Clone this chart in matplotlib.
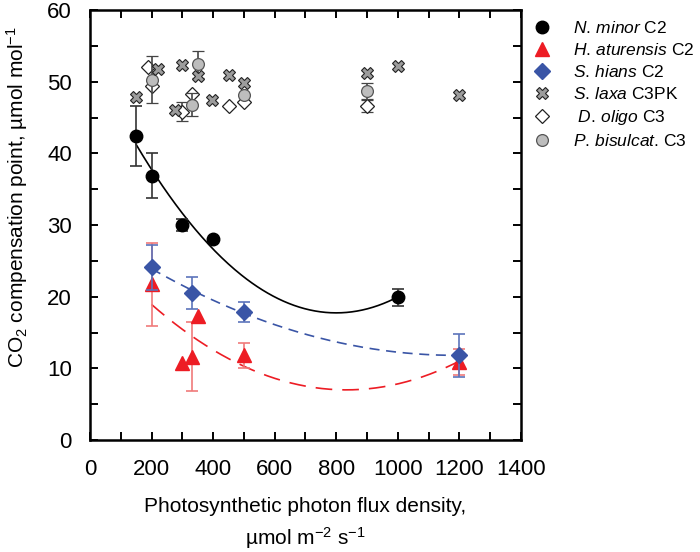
import numpy as np
import matplotlib
matplotlib.use("Agg")
import matplotlib.pyplot as plt

plt.rcParams["font.family"] = ["Liberation Sans", "DejaVu Sans"]
plt.rcParams["mathtext.fontset"] = "custom"
plt.rcParams["mathtext.rm"] = "Liberation Sans"
plt.rcParams["mathtext.it"] = "Liberation Sans:italic"

# ── data ────────────────────────────────────────────────────────────────────
nan = np.nan

x_nminor = [150, 200, 300, 400, 1000]
y_nminor = [42.4, 36.9, 30.0, 28.0, 19.9]
e_nminor = [4.2, 3.1, 0.8, nan, 1.2]

x_hatur = [200, 300, 330, 350, 500, 1200]
y_hatur = [21.7, 10.8, 11.6, 17.3, 11.8, 10.9]
e_hatur = [5.8, nan, 4.8, nan, 1.8, 1.8]

x_shians = [200, 330, 500, 1200]
y_shians = [24.1, 20.5, 17.9, 11.8]
e_shians = [3.1, 2.2, 1.4, 3.0]

x_slaxa = [150, 220, 275, 300, 350, 395, 450, 500, 900, 1000, 1200]
y_slaxa = [47.8, 51.8, 46.1, 52.3, 50.8, 47.4, 50.9, 49.8, 51.2, 52.2, 48.1]

x_doligo = [190, 200, 300, 330, 450, 500, 900]
y_doligo = [52.1, 49.4, 45.8, 48.3, 46.6, 47.2, 46.6]
e_doligo = [nan, nan, 1.3, nan, nan, nan, 0.8]

x_pbis = [200, 330, 350, 500, 900]
y_pbis = [50.3, 46.8, 52.4, 48.1, 48.7]
e_pbis = [3.3, 1.6, 1.9, nan, 1.1]

RED = "#ed1c24"
BLUE = "#3a55a6"

fig = plt.figure(figsize=(7.0, 5.52), dpi=100)
ax = fig.add_axes([90 / 700, 1 - 440 / 552, 431 / 700, 430 / 552])


def fit_curve(xs, ys, color, dashes):
    cx = np.linspace(min(xs), max(xs), 200)
    cy = np.polyval(np.polyfit(xs, ys, 2), cx)
    line, = ax.plot(cx, cy, color=color, lw=1.2, zorder=2)
    if dashes:
        line.set_dashes(dashes)


fit_curve(x_nminor, y_nminor, "black", None)
fit_curve(x_hatur, y_hatur, RED, (10, 6))
fit_curve(x_shians, y_shians, BLUE, (6, 4))

eb = dict(ls="none", capsize=4, elinewidth=1.2, capthick=1.2)

ax.errorbar(x_doligo, y_doligo, yerr=e_doligo, marker="D", ms=7.5, mfc="white",
            mec="#222222", mew=0.9, ecolor="#444444", zorder=3, **eb)
ax.errorbar(x_pbis, y_pbis, yerr=e_pbis, marker="o", ms=8.5, mfc="#bdbdbd",
            mec="#555555", mew=0.9, ecolor="#444444", zorder=4, **eb)
ax.plot(x_slaxa, y_slaxa, ls="none", marker="X", ms=8.5, mfc="#9c9c9c",
        mec="#222222", mew=0.8, zorder=5)
ax.errorbar(x_nminor, y_nminor, yerr=e_nminor, marker="o", ms=9, mfc="black",
            mec="black", ecolor="#333333", zorder=4, **eb)
ax.errorbar(x_hatur, y_hatur, yerr=e_hatur, marker="^", ms=9.5, mfc=RED,
            mec=RED, ecolor="#f07a7a", zorder=4, **eb)
ax.errorbar(x_shians, y_shians, yerr=e_shians, marker="D", ms=8, mfc=BLUE,
            mec=BLUE, ecolor="#5c74bb", zorder=5, **eb)

ax.set_xlim(0, 1400)
ax.set_ylim(0, 60)
ax.set_xticks(np.arange(0, 1401, 200))
ax.set_xticks(np.arange(100, 1400, 200), minor=True)
ax.set_yticks(np.arange(0, 61, 10))
ax.set_yticks(np.arange(5, 60, 10), minor=True)
ax.tick_params(which="both", direction="in", top=True, right=True,
               length=6, width=1.4, labelsize=16)
ax.tick_params(axis="x", pad=14)
ax.tick_params(axis="y", pad=13)
for sp in ax.spines.values():
    sp.set_linewidth(1.8)

fig.text(17 / 700, 1 - 197 / 552,
         "CO$_2$ compensation point, µmol mol$^{-1}$",
         rotation=90, ha="center", va="center", fontsize=15)
fig.text(305 / 700, 1 - 506 / 552, "Photosynthetic photon flux density,",
         ha="center", va="center", fontsize=15)
fig.text(305 / 700, 1 - 538 / 552, "µmol m$^{-2}$ s$^{-1}$",
         ha="center", va="center", fontsize=15)

# legend proxies
h = [
    plt.Line2D([], [], ls="none", marker="o", ms=9, mfc="black", mec="black"),
    plt.Line2D([], [], ls="none", marker="^", ms=9.5, mfc=RED, mec=RED),
    plt.Line2D([], [], ls="none", marker="D", ms=8, mfc=BLUE, mec=BLUE),
    plt.Line2D([], [], ls="none", marker="X", ms=8.5, mfc="#9c9c9c", mec="#222222", mew=0.8),
    plt.Line2D([], [], ls="none", marker="D", ms=7.5, mfc="white", mec="#222222", mew=0.9),
    plt.Line2D([], [], ls="none", marker="o", ms=8.5, mfc="#bdbdbd", mec="#555555", mew=0.9),
]
labels = [
    r"$\it{N.\,minor}$ C2",
    r"$\it{H.\,aturensis}$ C2",
    r"$\it{S.\,hians}$ C2",
    r"$\it{S.\,laxa}$ C3PK",
    r" $\it{D.\,oligo}$ C3",
    r"$\it{P.\,bisulcat}$. C3",
]
fig.legend(h, labels, loc="upper left", bbox_to_anchor=(533 / 700, 1 - 20 / 552),
           frameon=False, fontsize=12.5, handlelength=1.0, handletextpad=1.3,
           labelspacing=0.35, borderpad=0, borderaxespad=0)

fig.savefig("out.png", dpi=100)
